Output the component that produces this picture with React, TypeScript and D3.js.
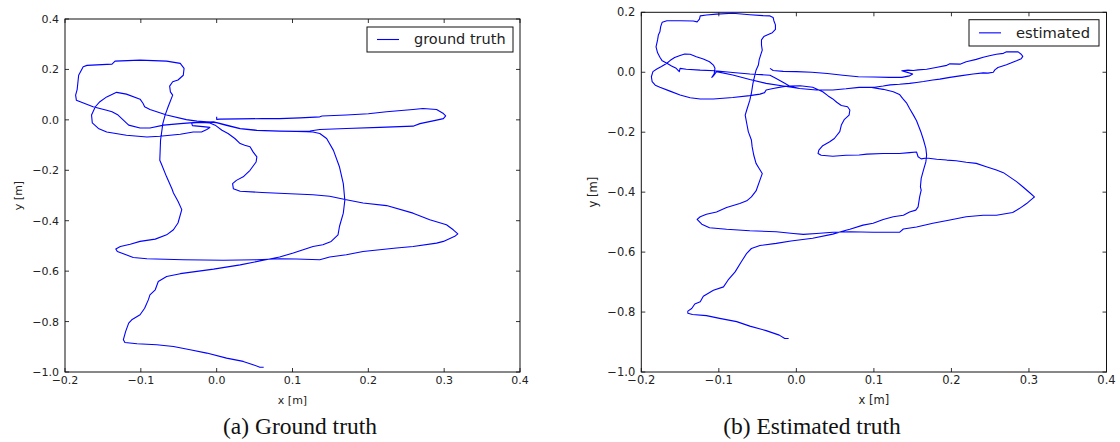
import React from "react";
import * as d3 from "d3";

const xTicks = [-0.2, -0.1, 0.0, 0.1, 0.2, 0.3, 0.4];
const yTicksGT = [-1.0, -0.8, -0.6, -0.4, -0.2, 0.0, 0.2, 0.4];
const yTicksEst = [-1.0, -0.8, -0.6, -0.4, -0.2, 0.0, 0.2];

const groundTruth: [number, number][] = [
  [0.0, 0.012], [0.0, 0.002], [0.004, 0.003], [0.03, 0.004], [0.06, 0.005], [0.083, 0.005], [0.11, 0.008],
  [0.136, 0.012], [0.139, 0.015], [0.171, 0.019], [0.2, 0.024], [0.224, 0.032], [0.259, 0.041], [0.272, 0.045],
  [0.29, 0.041], [0.299, 0.025], [0.302, 0.016], [0.299, 0.005], [0.29, -0.001], [0.268, -0.015], [0.259, -0.025],
  [0.215, -0.03], [0.171, -0.034], [0.136, -0.038], [0.123, -0.044], [0.105, -0.045], [0.083, -0.044],
  [0.053, -0.041], [0.031, -0.034], [0.013, -0.021], [0.0, -0.011],
  [-0.013, -0.008], [-0.026, -0.005], [-0.04, 0.001], [-0.066, 0.019], [-0.088, 0.041], [-0.095, 0.052],
  [-0.097, 0.065], [-0.101, 0.082], [-0.119, 0.102], [-0.132, 0.109],
  [-0.145, 0.091], [-0.154, 0.072], [-0.16, 0.052], [-0.165, 0.019], [-0.164, -0.012], [-0.156, -0.034],
  [-0.145, -0.048], [-0.119, -0.061], [-0.092, -0.068], [-0.075, -0.065], [-0.048, -0.057], [-0.031, -0.048],
  [-0.02, -0.048], [-0.013, -0.038], [-0.009, -0.03],
  [-0.018, -0.027], [-0.032, -0.023], [-0.033, -0.012], [-0.02, -0.01], [-0.009, -0.012],
  [-0.002, -0.021], [0.007, -0.041], [0.015, -0.054], [0.024, -0.074], [0.031, -0.094], [0.037, -0.101],
  [0.044, -0.107], [0.048, -0.127], [0.053, -0.147], [0.052, -0.167], [0.044, -0.2], [0.035, -0.226],
  [0.026, -0.24], [0.021, -0.253], [0.022, -0.273], [0.031, -0.283], [0.06, -0.288], [0.097, -0.293],
  [0.127, -0.297], [0.149, -0.303], [0.171, -0.317], [0.193, -0.33], [0.224, -0.34], [0.259, -0.37],
  [0.281, -0.396], [0.303, -0.416], [0.312, -0.436], [0.318, -0.452], [0.314, -0.462], [0.299, -0.482],
  [0.29, -0.489], [0.259, -0.502], [0.237, -0.508], [0.215, -0.515], [0.193, -0.522], [0.171, -0.535],
  [0.149, -0.544], [0.136, -0.555], [0.105, -0.552], [0.083, -0.551], [0.053, -0.555], [0.009, -0.557],
  [-0.044, -0.555], [-0.092, -0.551], [-0.11, -0.546], [-0.123, -0.531], [-0.131, -0.522], [-0.133, -0.512],
  [-0.127, -0.502], [-0.114, -0.493], [-0.101, -0.482], [-0.081, -0.473], [-0.066, -0.456], [-0.057, -0.436],
  [-0.051, -0.409], [-0.046, -0.356], [-0.051, -0.323], [-0.057, -0.29], [-0.059, -0.273], [-0.066, -0.226],
  [-0.073, -0.174], [-0.075, -0.16], [-0.074, -0.081], [-0.071, -0.015], [-0.068, 0.019], [-0.064, 0.052],
  [-0.058, 0.098], [-0.061, 0.111], [-0.062, 0.134], [-0.058, 0.151], [-0.051, 0.158], [-0.044, 0.177],
  [-0.043, 0.204], [-0.048, 0.224], [-0.066, 0.233], [-0.101, 0.237], [-0.134, 0.233], [-0.138, 0.221],
  [-0.171, 0.216], [-0.176, 0.211], [-0.182, 0.177], [-0.184, 0.12], [-0.186, 0.098], [-0.185, 0.078],
  [-0.163, 0.052], [-0.145, 0.038], [-0.138, 0.032], [-0.13, 0.019], [-0.123, -0.001], [-0.116, -0.021],
  [-0.101, -0.032], [-0.088, -0.032], [-0.07, -0.021], [-0.048, -0.015], [-0.031, -0.011], [-0.004, -0.008],
  [0.013, -0.022], [0.031, -0.035], [0.053, -0.042], [0.083, -0.045], [0.105, -0.046], [0.118, -0.047],
  [0.127, -0.048], [0.136, -0.054], [0.145, -0.074], [0.154, -0.121], [0.162, -0.187], [0.167, -0.253],
  [0.169, -0.319], [0.167, -0.37], [0.162, -0.422], [0.16, -0.456], [0.151, -0.482], [0.14, -0.495],
  [0.127, -0.502], [0.114, -0.515], [0.101, -0.528], [0.083, -0.544], [0.06, -0.558], [0.031, -0.575],
  [-0.004, -0.592], [-0.048, -0.61], [-0.066, -0.621], [-0.077, -0.641], [-0.081, -0.674], [-0.088, -0.694],
  [-0.09, -0.713], [-0.095, -0.747], [-0.101, -0.773], [-0.112, -0.793], [-0.116, -0.806], [-0.12, -0.839],
  [-0.123, -0.872], [-0.121, -0.883], [-0.105, -0.888], [-0.079, -0.892], [-0.057, -0.899], [-0.035, -0.912],
  [-0.013, -0.925], [0.013, -0.945], [0.035, -0.958], [0.048, -0.971], [0.057, -0.981], [0.062, -0.981],
];

const estimated: [number, number][] = [
  [-0.034, 0.013], [-0.03, 0.006], [-0.017, 0.003], [0.0, 0.002], [0.02, 0.0], [0.04, -0.004], [0.06, -0.01],
  [0.08, -0.015], [0.1, -0.016], [0.12, -0.017], [0.136, -0.017], [0.146, -0.012], [0.15, -0.006],
  [0.14, 0.002], [0.136, 0.005], [0.144, 0.007], [0.151, 0.006], [0.157, 0.008], [0.168, 0.01], [0.18, 0.016],
  [0.194, 0.023], [0.198, 0.028], [0.211, 0.027], [0.219, 0.035], [0.232, 0.043], [0.241, 0.05], [0.249, 0.055],
  [0.258, 0.06], [0.267, 0.063], [0.271, 0.068], [0.279, 0.068], [0.286, 0.068], [0.29, 0.06], [0.292, 0.053],
  [0.29, 0.045], [0.284, 0.038], [0.279, 0.033], [0.271, 0.025], [0.26, 0.016], [0.256, 0.008], [0.254, 0.0],
  [0.247, -0.003], [0.241, -0.002], [0.228, -0.006], [0.211, -0.012], [0.198, -0.017], [0.185, -0.023],
  [0.176, -0.026], [0.164, -0.031], [0.155, -0.034], [0.146, -0.037], [0.133, -0.04], [0.121, -0.042],
  [0.112, -0.046], [0.101, -0.05], [0.095, -0.05],
  [0.081, -0.05], [0.064, -0.055], [0.047, -0.059], [0.026, -0.059], [0.004, -0.054], [-0.017, -0.046],
  [-0.039, -0.037], [-0.06, -0.024], [-0.082, -0.009], [-0.103, 0.002], [-0.107, -0.012], [-0.109, -0.017],
  [-0.106, -0.005], [-0.105, 0.013], [-0.107, 0.024], [-0.112, 0.035], [-0.12, 0.044], [-0.129, 0.052],
  [-0.137, 0.06], [-0.144, 0.061], [-0.15, 0.056], [-0.157, 0.049], [-0.163, 0.039], [-0.167, 0.03],
  [-0.174, 0.019], [-0.18, 0.011], [-0.185, 0.002], [-0.187, -0.015], [-0.186, -0.031], [-0.182, -0.043],
  [-0.176, -0.05], [-0.163, -0.063], [-0.15, -0.076], [-0.137, -0.085], [-0.124, -0.089], [-0.107, -0.089],
  [-0.082, -0.084], [-0.06, -0.078], [-0.047, -0.073], [-0.041, -0.068], [-0.039, -0.059], [-0.03, -0.054],
  [-0.017, -0.048], [-0.009, -0.046],
  [0.005, -0.045], [0.021, -0.05], [0.034, -0.065], [0.041, -0.079], [0.047, -0.089], [0.052, -0.1],
  [0.058, -0.111], [0.066, -0.115], [0.069, -0.126], [0.068, -0.143], [0.062, -0.157], [0.058, -0.176],
  [0.056, -0.198], [0.049, -0.221], [0.043, -0.232], [0.034, -0.245], [0.029, -0.26], [0.028, -0.271],
  [0.032, -0.277], [0.047, -0.28], [0.064, -0.277], [0.081, -0.276], [0.091, -0.273], [0.112, -0.271],
  [0.133, -0.271], [0.146, -0.268], [0.155, -0.266], [0.157, -0.282], [0.161, -0.289], [0.168, -0.286],
  [0.181, -0.29], [0.194, -0.293], [0.206, -0.295], [0.219, -0.3], [0.232, -0.304], [0.245, -0.315],
  [0.258, -0.326], [0.267, -0.335], [0.275, -0.349], [0.284, -0.365], [0.292, -0.382], [0.301, -0.402],
  [0.307, -0.416], [0.306, -0.418], [0.301, -0.429], [0.297, -0.438], [0.288, -0.454], [0.279, -0.468],
  [0.258, -0.477], [0.241, -0.477], [0.219, -0.482], [0.198, -0.493], [0.176, -0.504], [0.155, -0.516],
  [0.138, -0.523], [0.133, -0.534], [0.112, -0.534], [0.099, -0.534], [0.069, -0.532], [0.047, -0.534],
  [0.026, -0.538], [0.009, -0.541], [-0.004, -0.538], [-0.026, -0.532], [-0.06, -0.529], [-0.09, -0.524],
  [-0.112, -0.519], [-0.122, -0.507], [-0.128, -0.491], [-0.124, -0.482], [-0.116, -0.474], [-0.103, -0.466],
  [-0.09, -0.451], [-0.073, -0.438], [-0.064, -0.429], [-0.058, -0.416], [-0.052, -0.396], [-0.047, -0.36],
  [-0.044, -0.338], [-0.048, -0.321], [-0.052, -0.304], [-0.055, -0.276], [-0.057, -0.249], [-0.058, -0.226],
  [-0.062, -0.198], [-0.064, -0.171], [-0.066, -0.143], [-0.064, -0.126], [-0.06, -0.093], [-0.058, -0.07],
  [-0.056, -0.037], [-0.054, -0.015], [-0.052, 0.007], [-0.049, 0.024], [-0.048, 0.041], [-0.046, 0.058],
  [-0.044, 0.074], [-0.045, 0.091], [-0.045, 0.108], [-0.042, 0.119], [-0.037, 0.125], [-0.031, 0.132],
  [-0.027, 0.143], [-0.027, 0.158], [-0.029, 0.172], [-0.03, 0.183], [-0.034, 0.188], [-0.043, 0.189],
  [-0.06, 0.192], [-0.082, 0.197], [-0.103, 0.194], [-0.116, 0.191], [-0.124, 0.188], [-0.125, 0.177],
  [-0.128, 0.168], [-0.133, 0.171], [-0.15, 0.172], [-0.167, 0.172], [-0.173, 0.167], [-0.175, 0.152],
  [-0.176, 0.135], [-0.178, 0.124], [-0.179, 0.108], [-0.181, 0.085], [-0.179, 0.065], [-0.176, 0.05],
  [-0.173, 0.038], [-0.167, 0.03], [-0.161, 0.021], [-0.155, 0.013], [-0.151, 0.002], [-0.15, 0.013],
  [-0.142, 0.01], [-0.124, 0.007], [-0.105, 0.005], [-0.082, -0.001], [-0.06, -0.006], [-0.045, -0.008],
  [-0.034, -0.01], [-0.026, -0.021], [-0.015, -0.037], [-0.009, -0.046], [0.004, -0.054], [0.026, -0.059],
  [0.047, -0.059], [0.064, -0.055], [0.081, -0.051], [0.095, -0.05], [0.112, -0.057], [0.125, -0.065],
  [0.133, -0.074], [0.137, -0.087], [0.142, -0.102], [0.146, -0.121], [0.151, -0.143], [0.155, -0.162],
  [0.158, -0.182], [0.161, -0.202], [0.164, -0.226], [0.167, -0.254], [0.168, -0.276], [0.167, -0.299],
  [0.164, -0.326], [0.161, -0.354], [0.16, -0.382], [0.161, -0.393], [0.159, -0.416], [0.157, -0.449],
  [0.154, -0.46], [0.146, -0.466], [0.138, -0.477], [0.125, -0.482], [0.112, -0.491], [0.099, -0.504],
  [0.086, -0.51], [0.069, -0.524], [0.064, -0.527], [0.047, -0.54], [0.021, -0.554], [-0.007, -0.563],
  [-0.026, -0.571], [-0.047, -0.578], [-0.058, -0.588], [-0.064, -0.604], [-0.071, -0.632], [-0.079, -0.666],
  [-0.088, -0.693], [-0.094, -0.716], [-0.107, -0.727], [-0.12, -0.747], [-0.124, -0.766], [-0.131, -0.773],
  [-0.135, -0.788], [-0.14, -0.797], [-0.14, -0.804], [-0.134, -0.808], [-0.116, -0.812], [-0.099, -0.821],
  [-0.077, -0.832], [-0.06, -0.847], [-0.039, -0.862], [-0.022, -0.877], [-0.015, -0.888], [-0.01, -0.888],
];

const fmt = (v: number) => d3.format(".1f")(v).replace("-", "\u2212");

type PanelProps = {
  data: [number, number][];
  yDomain: [number, number];
  yTicks: number[];
  left: number; right: number; top: number; bottom: number;
  tickFont: number;
  yLabelX: number;
  captionX: number;
  caption: string;
  legend: { x: number; y: number; w: number; h: number; label: string; font: number };
};

function Panel(p: PanelProps) {
  const x = d3.scaleLinear().domain([-0.2, 0.4]).range([p.left, p.right]);
  const y = d3.scaleLinear().domain(p.yDomain).range([p.bottom, p.top]);
  const line = d3.line<[number, number]>().x((d) => x(d[0])).y((d) => y(d[1]));
  const tl = 4;
  const font = "DejaVu Sans, sans-serif";
  const lg = p.legend;
  return (
    <g>
      <rect x={p.left} y={p.top} width={p.right - p.left} height={p.bottom - p.top} fill="#fff" />
      <path d={line(p.data) || ""} fill="none" stroke="#0000ff" strokeWidth={1.1} strokeLinejoin="round" />
      {xTicks.map((t) => (
        <g key={"x" + t}>
          <line x1={x(t)} x2={x(t)} y1={p.bottom} y2={p.bottom - tl} stroke="#000" strokeWidth={0.8} />
          <line x1={x(t)} x2={x(t)} y1={p.top} y2={p.top + tl} stroke="#000" strokeWidth={0.8} />
          <text x={x(t)} y={p.bottom + 12} textAnchor="middle" fontFamily={font} fontSize={p.tickFont} fill="#222">
            {fmt(t)}
          </text>
        </g>
      ))}
      {p.yTicks.map((t) => (
        <g key={"y" + t}>
          <line x1={p.left} x2={p.left + tl} y1={y(t)} y2={y(t)} stroke="#000" strokeWidth={0.8} />
          <line x1={p.right} x2={p.right - tl} y1={y(t)} y2={y(t)} stroke="#000" strokeWidth={0.8} />
          <text x={p.left - 6} y={y(t) + p.tickFont * 0.36} textAnchor="end" fontFamily={font} fontSize={p.tickFont} fill="#222">
            {fmt(t)}
          </text>
        </g>
      ))}
      <rect x={p.left} y={p.top} width={p.right - p.left} height={p.bottom - p.top} fill="none" stroke="#111" strokeWidth={1} />
      <text x={(p.left + p.right) / 2} y={p.bottom + 32} textAnchor="middle" fontFamily={font} fontSize={p.tickFont} fill="#222">
        x [m]
      </text>
      <text
        transform={`translate(${p.yLabelX},${(p.top + p.bottom) / 2}) rotate(-90)`}
        textAnchor="middle" fontFamily={font} fontSize={p.tickFont} fill="#222"
      >
        y [m]
      </text>
      <rect x={lg.x} y={lg.y} width={lg.w} height={lg.h} fill="#fff" stroke="#111" strokeWidth={1} />
      <line x1={lg.x + 10} x2={lg.x + 32} y1={lg.y + lg.h / 2} y2={lg.y + lg.h / 2} stroke="#0000ff" strokeWidth={1.1} />
      <text x={lg.x + 47} y={lg.y + lg.h / 2 + lg.font * 0.33} fontFamily={font} fontSize={lg.font} fill="#222">
        {lg.label}
      </text>
      <text x={p.captionX} y={434} textAnchor="middle" fontFamily="Liberation Serif, Times New Roman, serif" fontSize={23.5} fill="#111">
        {p.caption}
      </text>
    </g>
  );
}

export default function App() {
  return (
    <svg width={1120} height={442} style={{ position: "absolute", left: 0, top: 0, background: "#fff" }}>
      <rect width={1120} height={442} fill="#fff" />
      <Panel
        data={groundTruth} yDomain={[-1.0, 0.4]} yTicks={yTicksGT}
        left={65} right={520} top={19} bottom={372} tickFont={11}
        yLabelX={22} captionX={300} caption="(a) Ground truth"
        legend={{ x: 367, y: 27, w: 146, h: 25, label: "ground truth", font: 14.5 }}
      />
      <Panel
        data={estimated} yDomain={[-1.0, 0.2]} yTicks={yTicksEst}
        left={641.3} right={1106.5} top={12.3} bottom={372} tickFont={11.5}
        yLabelX={597} captionX={812} caption="(b) Estimated truth"
        legend={{ x: 969, y: 19.7, w: 130, h: 26.3, label: "estimated", font: 14.7 }}
      />
    </svg>
  );
}
